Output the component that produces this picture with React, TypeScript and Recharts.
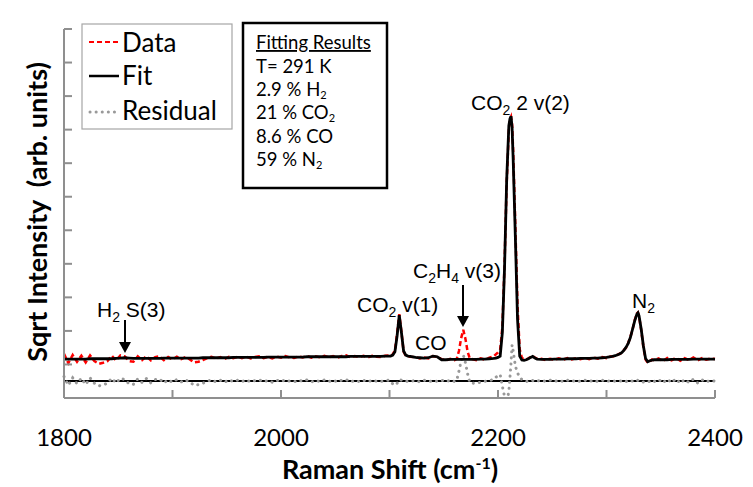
import { LineChart, Line, XAxis, YAxis, ReferenceLine } from 'recharts';

// =============================================================================
// Data
// =============================================================================

// Raman shift, cm-1 (finer steps around the peaks)
const WAVENUMBER = [
  1800, 1804, 1808, 1812, 1816, 1820, 1824, 1828, 1832, 1836,
  1840, 1844, 1848, 1852, 1856, 1860, 1864, 1868, 1872, 1876,
  1880, 1884, 1888, 1892, 1896, 1900, 1904, 1908, 1912, 1916,
  1920, 1924, 1928, 1932, 1936, 1940, 1944, 1948, 1952, 1956,
  1960, 1964, 1968, 1972, 1976, 1980, 1984, 1988, 1992, 1996,
  2000, 2004, 2008, 2012, 2016, 2020, 2024, 2028, 2032, 2036,
  2040, 2044, 2048, 2052, 2056, 2060, 2064, 2068, 2072, 2076,
  2080, 2084, 2088, 2092, 2096, 2100,
  2101, 2103, 2105, 2107, 2109, 2111, 2113, 2115, 2117, 2119,
  2124, 2128, 2132, 2136, 2140, 2144, 2148, 2152, 2156, 2160,
  2162, 2164, 2166, 2168, 2170, 2172, 2174, 2176,
  2180, 2184, 2188, 2192, 2196,
  2198, 2200, 2202, 2204, 2206, 2208, 2210, 2211, 2212, 2213, 2214,
  2216, 2218, 2220, 2222, 2224, 2226, 2228, 2230, 2232, 2234, 2236,
  2240, 2244, 2248, 2252, 2256, 2260, 2264, 2268, 2272, 2276,
  2280, 2284, 2288, 2292, 2296, 2300, 2304, 2308, 2312,
  2314, 2316, 2318, 2320, 2322, 2324, 2326, 2328, 2329, 2330,
  2332, 2334, 2336, 2338, 2340, 2342, 2344,
  2348, 2352, 2356, 2360, 2364, 2368, 2372, 2376, 2380, 2384,
  2388, 2392, 2396, 2400,
];

// Measured spectrum (red dashed)
const DATA = [
  1.32, 1.04, 1.28, 1.08, 1.26, 1.06, 1.27, 1.10, 1.02, 1.05,
  1.10, 1.26, 1.12, 1.27, 1.24, 1.10, 1.08, 1.24, 1.13, 1.25,
  1.12, 1.22, 1.24, 1.13, 1.22, 1.15, 1.23, 1.16, 1.22, 1.15,
  1.06, 1.08, 1.13, 1.19, 1.23, 1.17, 1.22, 1.16, 1.23, 1.19,
  1.23, 1.19, 1.24, 1.18, 1.22, 1.24, 1.19, 1.23, 1.18, 1.24,
  1.20, 1.25, 1.21, 1.19, 1.24, 1.21, 1.26, 1.20, 1.24, 1.21,
  1.26, 1.21, 1.25, 1.20, 1.25, 1.27, 1.21, 1.25, 1.22, 1.26,
  1.21, 1.26, 1.23, 1.22, 1.26, 1.27,
  1.26, 1.30, 1.42, 1.92, 2.50, 1.98, 1.38, 1.26, 1.24, 1.23,
  1.22, 1.18, 1.21, 1.18, 1.25, 1.22, 1.16, 1.12, 1.17, 1.13,
  1.17, 1.40, 1.78, 2.03, 1.76, 1.38, 1.18, 1.16,
  1.13, 1.18, 1.14, 1.20, 1.24,
  1.30, 1.36, 1.45, 2.10, 3.95, 6.40, 8.00, 8.30, 8.38, 8.15, 7.35,
  5.10, 2.75, 1.45, 1.20, 1.15, 1.15, 1.18, 1.22, 1.25, 1.20, 1.17,
  1.17, 1.13, 1.17, 1.14, 1.18, 1.14, 1.19, 1.15, 1.19, 1.16,
  1.20, 1.16, 1.21, 1.17, 1.22, 1.19, 1.24, 1.25, 1.32,
  1.34, 1.43, 1.50, 1.64, 1.82, 2.04, 2.32, 2.52, 2.55, 2.44,
  2.02, 1.52, 1.15, 1.05, 1.09, 1.15, 1.12,
  1.18, 1.10, 1.19, 1.12, 1.20, 1.11, 1.19, 1.13, 1.21, 1.12,
  1.19, 1.14, 1.18, 1.16,
];

// Fitted spectrum (black)
const FIT = [
  1.16, 1.16, 1.16, 1.16, 1.16, 1.16, 1.17, 1.17, 1.17, 1.17,
  1.17, 1.17, 1.18, 1.19, 1.20, 1.19, 1.18, 1.18, 1.18, 1.18,
  1.18, 1.18, 1.18, 1.19, 1.19, 1.19, 1.19, 1.19, 1.19, 1.19,
  1.19, 1.19, 1.20, 1.20, 1.20, 1.20, 1.20, 1.20, 1.20, 1.21,
  1.21, 1.21, 1.21, 1.21, 1.21, 1.21, 1.21, 1.22, 1.22, 1.22,
  1.22, 1.22, 1.22, 1.22, 1.22, 1.22, 1.23, 1.23, 1.23, 1.23,
  1.23, 1.23, 1.23, 1.23, 1.23, 1.23, 1.24, 1.24, 1.24, 1.24,
  1.24, 1.24, 1.24, 1.24, 1.25, 1.25,
  1.25, 1.28, 1.38, 1.85, 2.47, 1.95, 1.40, 1.28, 1.25, 1.24,
  1.21, 1.20, 1.19, 1.20, 1.25, 1.23, 1.14, 1.14, 1.15, 1.15,
  1.15, 1.15, 1.15, 1.15, 1.15, 1.15, 1.15, 1.15,
  1.15, 1.16, 1.16, 1.17, 1.18,
  1.19, 1.21, 1.25, 1.95, 3.85, 6.50, 8.12, 8.32, 8.40, 8.05, 7.10,
  4.80, 2.35, 1.25, 1.13, 1.12, 1.14, 1.17, 1.21, 1.24, 1.19, 1.16,
  1.15, 1.15, 1.15, 1.16, 1.16, 1.16, 1.17, 1.17, 1.17, 1.18,
  1.18, 1.18, 1.19, 1.19, 1.20, 1.21, 1.23, 1.26, 1.31,
  1.35, 1.42, 1.51, 1.63, 1.80, 2.05, 2.30, 2.50, 2.54, 2.45,
  2.05, 1.55, 1.18, 1.08, 1.11, 1.13, 1.14,
  1.14, 1.14, 1.14, 1.15, 1.15, 1.15, 1.15, 1.15, 1.16, 1.16,
  1.16, 1.16, 1.16, 1.16,
];

// Residual, drawn offset around its own zero line
const RESIDUAL = [
  0.64, 0.38, 0.60, 0.43, 0.59, 0.40, 0.60, 0.44, 0.36, 0.39,
  0.44, 0.59, 0.45, 0.59, 0.55, 0.42, 0.41, 0.57, 0.46, 0.58,
  0.45, 0.55, 0.57, 0.45, 0.54, 0.47, 0.55, 0.48, 0.54, 0.47,
  0.38, 0.40, 0.44, 0.50, 0.54, 0.48, 0.53, 0.47, 0.54, 0.49,
  0.53, 0.49, 0.54, 0.48, 0.52, 0.54, 0.49, 0.52, 0.47, 0.53,
  0.49, 0.54, 0.50, 0.48, 0.53, 0.50, 0.54, 0.48, 0.52, 0.49,
  0.54, 0.49, 0.53, 0.48, 0.53, 0.55, 0.48, 0.52, 0.49, 0.53,
  0.48, 0.53, 0.50, 0.49, 0.52, 0.53,
  0.50, 0.42, 0.38, 0.44, 0.55, 0.53, 0.50, 0.49, 0.51, 0.50,
  0.52, 0.48, 0.53, 0.49, 0.51, 0.50, 0.53, 0.49, 0.53, 0.49,
  0.53, 0.80, 1.10, 1.28, 1.05, 0.72, 0.46, 0.44,
  0.45, 0.47, 0.50, 0.52, 0.55,
  0.62, 0.66, 0.70, 0.35, 0.05, -0.15, 0.20, 0.60, 1.05, 1.58, 1.40,
  0.95, 0.75, 0.62, 0.55, 0.52, 0.49, 0.51, 0.50, 0.52, 0.49, 0.51,
  0.53, 0.49, 0.53, 0.49, 0.53, 0.49, 0.53, 0.49, 0.53, 0.49,
  0.53, 0.49, 0.53, 0.49, 0.53, 0.49, 0.52, 0.50, 0.51,
  0.50, 0.52, 0.49, 0.52, 0.53, 0.50, 0.53, 0.54, 0.52, 0.49,
  0.47, 0.48, 0.46, 0.48, 0.50, 0.53, 0.49,
  0.55, 0.45, 0.56, 0.46, 0.57, 0.44, 0.55, 0.46, 0.56, 0.45,
  0.54, 0.48, 0.53, 0.50,
];

const RESIDUAL_ZERO = 0.51;

const X_TICKS = [1800, 1900, 2000, 2100, 2200, 2300, 2400];
const X_LABELS = [1800, 2000, 2200, 2400];
const Y_TICKS = [0, 1, 2, 3, 4, 5, 6, 7, 8, 9, 10, 11];

// =============================================================================
// Styles
// =============================================================================

const AXIS_COLOR = '#8f8f8f';
const RED = '#ff0000';
const GREY = '#999999';
const CALIBRI = 'Lato, "Open Sans", sans-serif';
const ARIAL = '"Liberation Sans", Arial, sans-serif';

// =============================================================================
// Axis ticks (drawn pointing into the plot)
// =============================================================================

function XTick(props: any) {
  const { x, y, payload } = props;
  const show = X_LABELS.includes(payload.value);
  return (
    <g>
      <line x1={x} x2={x} y1={y} y2={y - 8} stroke={AXIS_COLOR} strokeWidth={2} />
      {show && (
        <text x={x} y={y + 48} textAnchor="middle" fontFamily={CALIBRI} fontSize={24} fill="#000">
          {payload.value}
        </text>
      )}
    </g>
  );
}

function YTick(props: any) {
  const { x, y } = props;
  return <line x1={x} x2={x + 8} y1={y} y2={y} stroke={AXIS_COLOR} strokeWidth={2} />;
}

// =============================================================================
// Component
// =============================================================================

export default function App() {
  const rows = WAVENUMBER.map((x, i) => ({
    x,
    data: DATA[i],
    fit: FIT[i],
    residual: RESIDUAL[i],
  }));

  return (
    <div style={{ position: 'absolute', left: 0, top: 0, width: 753, height: 487, background: '#fff' }}>
      <LineChart width={753} height={487} data={rows} margin={{ top: 29, right: 38, left: 54, bottom: 29 }}>
        <XAxis
          dataKey="x"
          type="number"
          domain={[1800, 2400]}
          ticks={X_TICKS}
          interval={0}
          height={60}
          tickSize={0}
          tickMargin={0}
          tickLine={false}
          axisLine={{ stroke: AXIS_COLOR, strokeWidth: 2 }}
          tick={<XTick />}
        />
        <YAxis
          type="number"
          domain={[0, 11]}
          ticks={Y_TICKS}
          interval={0}
          allowDataOverflow
          width={10}
          tickSize={0}
          tickMargin={0}
          tickLine={false}
          axisLine={{ stroke: AXIS_COLOR, strokeWidth: 2 }}
          tick={<YTick />}
        />
        <ReferenceLine y={RESIDUAL_ZERO} stroke="#000" strokeWidth={2} />
        <Line
          dataKey="data"
          type="linear"
          stroke={RED}
          strokeWidth={2.5}
          strokeDasharray="5 3"
          dot={false}
          isAnimationActive={false}
        />
        <Line
          dataKey="residual"
          type="linear"
          stroke={GREY}
          strokeWidth={3}
          strokeDasharray="0.1 6"
          strokeLinecap="round"
          dot={false}
          isAnimationActive={false}
        />
        <Line
          dataKey="fit"
          type="linear"
          stroke="#000"
          strokeWidth={2.8}
          dot={false}
          isAnimationActive={false}
        />
      </LineChart>

      {/* Overlay: titles, legend, results box, peak labels */}
      <svg width={753} height={487} style={{ position: 'absolute', left: 0, top: 0, pointerEvents: 'none' }}>
        {/* Axis titles */}
        <text x={390} y={479} textAnchor="middle" fontFamily={CALIBRI} fontWeight={700} fontSize={27}>
          Raman Shift (cm
          <tspan fontSize={16} dy={-10}>-1</tspan>
          <tspan dy={10}>)</tspan>
        </text>
        <text
          x={47}
          y={212}
          transform="rotate(-90 47 212)"
          textAnchor="middle"
          fontFamily={CALIBRI}
          fontWeight={700}
          fontSize={27}
          style={{ whiteSpace: 'pre' }}
        >
          {'Sqrt Intensity  (arb. units)'}
        </text>

        {/* Legend */}
        <rect x={82} y={24} width={150} height={105} fill="#fff" stroke="#a6a6a6" strokeWidth={1.2} />
        <line x1={89} x2={119} y1={42} y2={42} stroke={RED} strokeWidth={2} strokeDasharray="5 3" />
        <line x1={89} x2={119} y1={76} y2={76} stroke="#000" strokeWidth={2.5} />
        <line x1={90} x2={119} y1={112} y2={112} stroke={GREY} strokeWidth={3} strokeDasharray="0.1 6" strokeLinecap="round" />
        <g fontFamily={CALIBRI} fontSize={26} fill="#000">
          <text x={122} y={52}>Data</text>
          <text x={122} y={85}>Fit</text>
          <text x={122} y={120}>Residual</text>
        </g>

        {/* Fitting results */}
        <rect x={243} y={23} width={144} height={165} fill="#fff" stroke="#000" strokeWidth={2.5} />
        <g fontFamily={CALIBRI} fontSize={18.5} fill="#000">
          <text x={256} y={49} textDecoration="underline">Fitting Results</text>
          <text x={256} y={73}>T= 291 K</text>
          <text x={256} y={96}>
            2.9 % H<tspan fontSize={11} dy={3}>2</tspan>
          </text>
          <text x={256} y={119}>
            21 % CO<tspan fontSize={11} dy={3}>2</tspan>
          </text>
          <text x={256} y={143}>8.6 % CO</text>
          <text x={256} y={166}>
            59 % N<tspan fontSize={11} dy={3}>2</tspan>
          </text>
        </g>

        {/* Peak labels */}
        <g fontFamily={ARIAL} fontSize={21} fill="#000">
          <text x={97} y={317}>
            H<tspan fontSize={14} dy={5}>2</tspan>
            <tspan dy={-5}> S(3)</tspan>
          </text>
          <text x={357} y={312}>
            CO<tspan fontSize={14} dy={5}>2</tspan>
            <tspan dy={-5}> v(1)</tspan>
          </text>
          <text x={415} y={350}>CO</text>
          <text x={413} y={278}>
            C<tspan fontSize={14} dy={5}>2</tspan>
            <tspan dy={-5}>H</tspan>
            <tspan fontSize={14} dy={5}>4</tspan>
            <tspan dy={-5}> v(3)</tspan>
          </text>
          <text x={471} y={110}>
            CO<tspan fontSize={14} dy={5}>2</tspan>
            <tspan dy={-5}> 2 v(2)</tspan>
          </text>
          <text x={632} y={308}>
            N<tspan fontSize={14} dy={5}>2</tspan>
          </text>
        </g>

        {/* Arrows */}
        <line x1={125} x2={125} y1={320} y2={344} stroke="#000" strokeWidth={2} />
        <polygon points="119,342 131,342 125,353" fill="#000" />
        <line x1={463} x2={463} y1={285} y2={318} stroke="#000" strokeWidth={2} />
        <polygon points="457,316 469,316 463,327" fill="#000" />
      </svg>
    </div>
  );
}
